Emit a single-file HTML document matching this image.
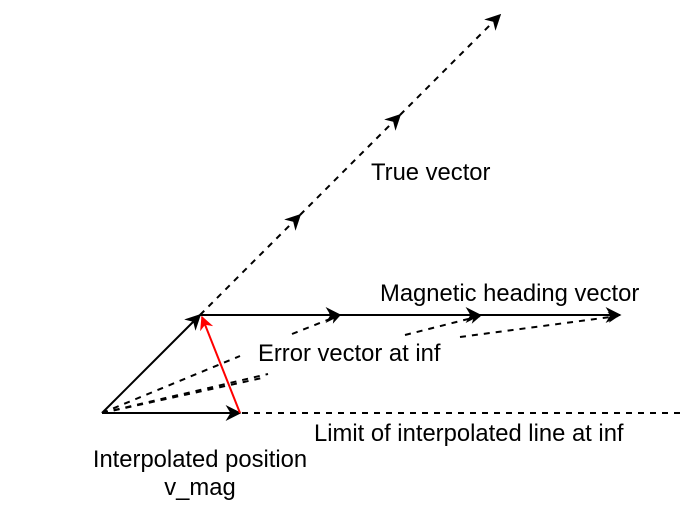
<!DOCTYPE html>
<html><head><meta charset="utf-8"><style>
html,body{margin:0;padding:0;background:#fff;}
svg{display:block;}
text{font-family:"Liberation Sans",Arial,sans-serif;font-size:23.8px;fill:#000;}
</style></head><body>
<svg width="684" height="506" viewBox="0 0 684 506">
<defs>
<marker id="ah" viewBox="0 0 10 10" refX="9" refY="5" markerWidth="11" markerHeight="11" markerUnits="userSpaceOnUse" orient="auto">
<path d="M0,0 L10,5 L0,10 L3,5 Z" fill="#000"/></marker>
<marker id="ahr" viewBox="0 0 10 10" refX="9" refY="5" markerWidth="14" markerHeight="14" markerUnits="userSpaceOnUse" orient="auto">
<path d="M0,0 L10,5 L0,10 L3,5 Z" fill="#f00"/></marker>
<marker id="ahs" viewBox="0 0 10 10" refX="9" refY="5" markerWidth="16" markerHeight="16" markerUnits="userSpaceOnUse" orient="auto">
<path d="M0,0 L10,5 L0,10 L3,5 Z" fill="#000"/></marker>
</defs>
<g stroke="#000" stroke-width="2" fill="none">
<line x1="200" y1="315" x2="300" y2="215" stroke-dasharray="6,6" marker-end="url(#ahs)"/>
<line x1="300" y1="215" x2="400" y2="115" stroke-dasharray="6,6" marker-end="url(#ahs)"/>
<line x1="400" y1="115" x2="500" y2="15" stroke-dasharray="6,6" marker-end="url(#ahs)"/>
<line x1="200" y1="315" x2="340" y2="315" marker-end="url(#ahs)"/>
<line x1="340" y1="315" x2="480" y2="315" marker-end="url(#ahs)"/>
<line x1="480" y1="315" x2="620" y2="315" marker-end="url(#ahs)"/>
<line x1="102" y1="413" x2="200" y2="315" marker-end="url(#ahs)"/>
<line x1="102" y1="413" x2="240" y2="413" marker-end="url(#ahs)"/>
<line x1="242" y1="413" x2="684" y2="413" stroke-dasharray="6,6"/>
<g stroke-dasharray="6,6">
<line x1="102" y1="413" x2="240" y2="356"/>
<line x1="292" y1="334" x2="340" y2="315" marker-end="url(#ah)"/>
<line x1="102" y1="413" x2="268" y2="374"/>
<line x1="405" y1="335" x2="480" y2="316" marker-end="url(#ah)"/>
<line x1="102" y1="413" x2="262" y2="378"/>
<line x1="460" y1="337" x2="618" y2="316" marker-end="url(#ah)"/>
</g>
</g>
<line x1="240" y1="413" x2="202" y2="317" stroke="#f00" stroke-width="2" marker-end="url(#ahr)"/>
<text x="371" y="180">True vector</text>
<text x="380" y="301">Magnetic heading vector</text>
<text x="258" y="361">Error vector at inf</text>
<text x="314" y="441">Limit of interpolated line at inf</text>
<text x="200" y="467" text-anchor="middle">Interpolated position</text>
<text x="200" y="495" text-anchor="middle">v_mag</text>
</svg>
</body></html>
